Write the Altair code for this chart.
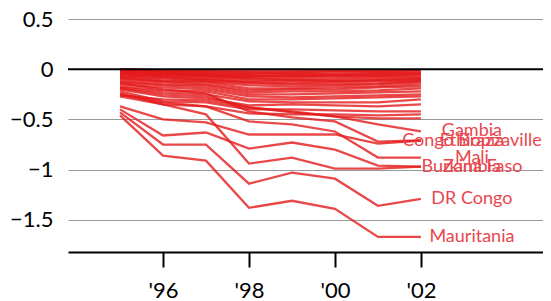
import altair as alt
import pandas as pd

years = [1995, 1996, 1997, 1998, 1999, 2000, 2001, 2002]

# labelled countries
gambia = [-0.19, -0.25, -0.27, -0.38, -0.42, -0.47, -0.55, -0.62]
congo_brazzaville = [-0.14, -0.20, -0.24, -0.42, -0.48, -0.52, -0.72, -0.71]
ethiopia = [-0.37, -0.50, -0.53, -0.65, -0.65, -0.65, -0.74, -0.71]
mali = [-0.25, -0.33, -0.37, -0.52, -0.55, -0.62, -0.88, -0.88]
zambia = [-0.40, -0.66, -0.63, -0.79, -0.73, -0.80, -0.96, -0.97]
burkina_faso = [-0.27, -0.35, -0.45, -0.94, -0.88, -0.99, -0.99, -0.97]
dr_congo = [-0.43, -0.75, -0.75, -1.14, -1.03, -1.09, -1.36, -1.29]
mauritania = [-0.46, -0.86, -0.91, -1.38, -1.31, -1.39, -1.67, -1.67]

labelled = {
    "Gambia": gambia,
    "Congo Brazzaville": congo_brazzaville,
    "Ethiopia": ethiopia,
    "Mali": mali,
    "Zambia": zambia,
    "Burkina Faso": burkina_faso,
    "DR Congo": dr_congo,
    "Mauritania": mauritania,
}

# unlabelled countries
others = [
    [0.00, -0.01, -0.01, -0.02, -0.02, -0.01, -0.01, -0.01],
    [-0.01, -0.02, -0.03, -0.03, -0.04, -0.03, -0.03, -0.02],
    [-0.02, -0.02, -0.02, -0.04, -0.03, -0.02, -0.02, -0.01],
    [-0.01, -0.03, -0.04, -0.05, -0.05, -0.05, -0.04, -0.04],
    [-0.02, -0.03, -0.05, -0.06, -0.07, -0.06, -0.06, -0.05],
    [-0.04, -0.05, -0.06, -0.07, -0.06, -0.06, -0.05, -0.04],
    [-0.03, -0.04, -0.05, -0.08, -0.08, -0.07, -0.07, -0.06],
    [-0.03, -0.05, -0.07, -0.09, -0.10, -0.09, -0.08, -0.08],
    [-0.04, -0.06, -0.07, -0.10, -0.11, -0.11, -0.10, -0.09],
    [-0.05, -0.07, -0.09, -0.12, -0.12, -0.12, -0.11, -0.10],
    [-0.06, -0.08, -0.10, -0.13, -0.14, -0.13, -0.12, -0.11],
    [-0.07, -0.09, -0.11, -0.14, -0.15, -0.15, -0.14, -0.12],
    [-0.08, -0.11, -0.12, -0.16, -0.17, -0.16, -0.15, -0.13],
    [-0.09, -0.12, -0.13, -0.19, -0.19, -0.18, -0.17, -0.15],
    [-0.10, -0.13, -0.15, -0.21, -0.20, -0.20, -0.18, -0.17],
    [-0.12, -0.15, -0.16, -0.23, -0.22, -0.22, -0.21, -0.19],
    [-0.13, -0.16, -0.18, -0.25, -0.25, -0.24, -0.23, -0.22],
    [-0.15, -0.18, -0.20, -0.27, -0.28, -0.27, -0.26, -0.25],
    [-0.17, -0.21, -0.22, -0.30, -0.30, -0.29, -0.28, -0.27],
    [-0.18, -0.23, -0.25, -0.32, -0.33, -0.33, -0.33, -0.30],
    [-0.20, -0.27, -0.29, -0.36, -0.35, -0.36, -0.37, -0.35],
    [-0.22, -0.32, -0.33, -0.40, -0.40, -0.41, -0.42, -0.42],
    [-0.24, -0.35, -0.37, -0.44, -0.45, -0.45, -0.46, -0.45],
    [-0.26, -0.30, -0.31, -0.38, -0.43, -0.47, -0.49, -0.49],
]

rows = []
for name, vals in labelled.items():
    for yr, v in zip(years, vals):
        rows.append({"country": name, "year": yr, "value": v})
for i, vals in enumerate(others):
    for yr, v in zip(years, vals):
        rows.append({"country": f"other{i}", "year": yr, "value": v})
df = pd.DataFrame(rows)

lab_df = pd.DataFrame(
    {"country": list(labelled.keys()),
     "year": [years[-1]] * len(labelled),
     "value": [v[-1] for v in labelled.values()]}
)

FONT = "Lato"

x = alt.X(
    "year:Q",
    scale=alt.Scale(domain=[1993.79, 2004.84], nice=False, zero=False),
    axis=alt.Axis(
        values=[1996, 1998, 2000, 2002],
        labelExpr="\"'\" + substring(toString(datum.value), 2, 4)",
        title=None, grid=False, domainColor="black", domainWidth=2,
        tickColor="black", tickWidth=2, tickSize=15,
        labelFontSize=22, labelFont=FONT, labelColor="black", labelPadding=13,
    ),
)
y = alt.Y(
    "value:Q",
    scale=alt.Scale(domain=[-1.82, 0.5], nice=False, zero=False),
    axis=alt.Axis(
        values=[0.5, 0, -0.5, -1, -1.5],
        labelExpr="replace(format(datum.value, '.1~f'), '-', '\u2212')",
        domain=False, ticks=False, grid=True, gridColor="#999999", gridWidth=1,
        labelFontSize=22, labelFont=FONT, labelColor="black", labelPadding=15,
        title=None,
    ),
)

lines = alt.Chart(df).mark_line(color="#e41a1c", strokeWidth=2.3, opacity=0.8).encode(
    x=x, y=y, detail="country:N"
)

zero = alt.Chart(pd.DataFrame({"v": [0]})).mark_rule(color="black", strokeWidth=2).encode(
    y="v:Q"
)

labels = alt.Chart(lab_df).mark_text(
    align="center", baseline="middle", dx=51, fontSize=18, font=FONT, color="#e8474f"
).encode(x="year:Q", y="value:Q", text="country:N")

chart = alt.layer(lines, zero, labels).properties(
    width=475, height=233,
    autosize=alt.AutoSizeParams(type="none"),
    padding={"left": 60, "top": 11, "right": 0, "bottom": 52},
).configure_view(stroke=None)

chart.save("out.html", embed_options={"renderer": "svg", "actions": False})
